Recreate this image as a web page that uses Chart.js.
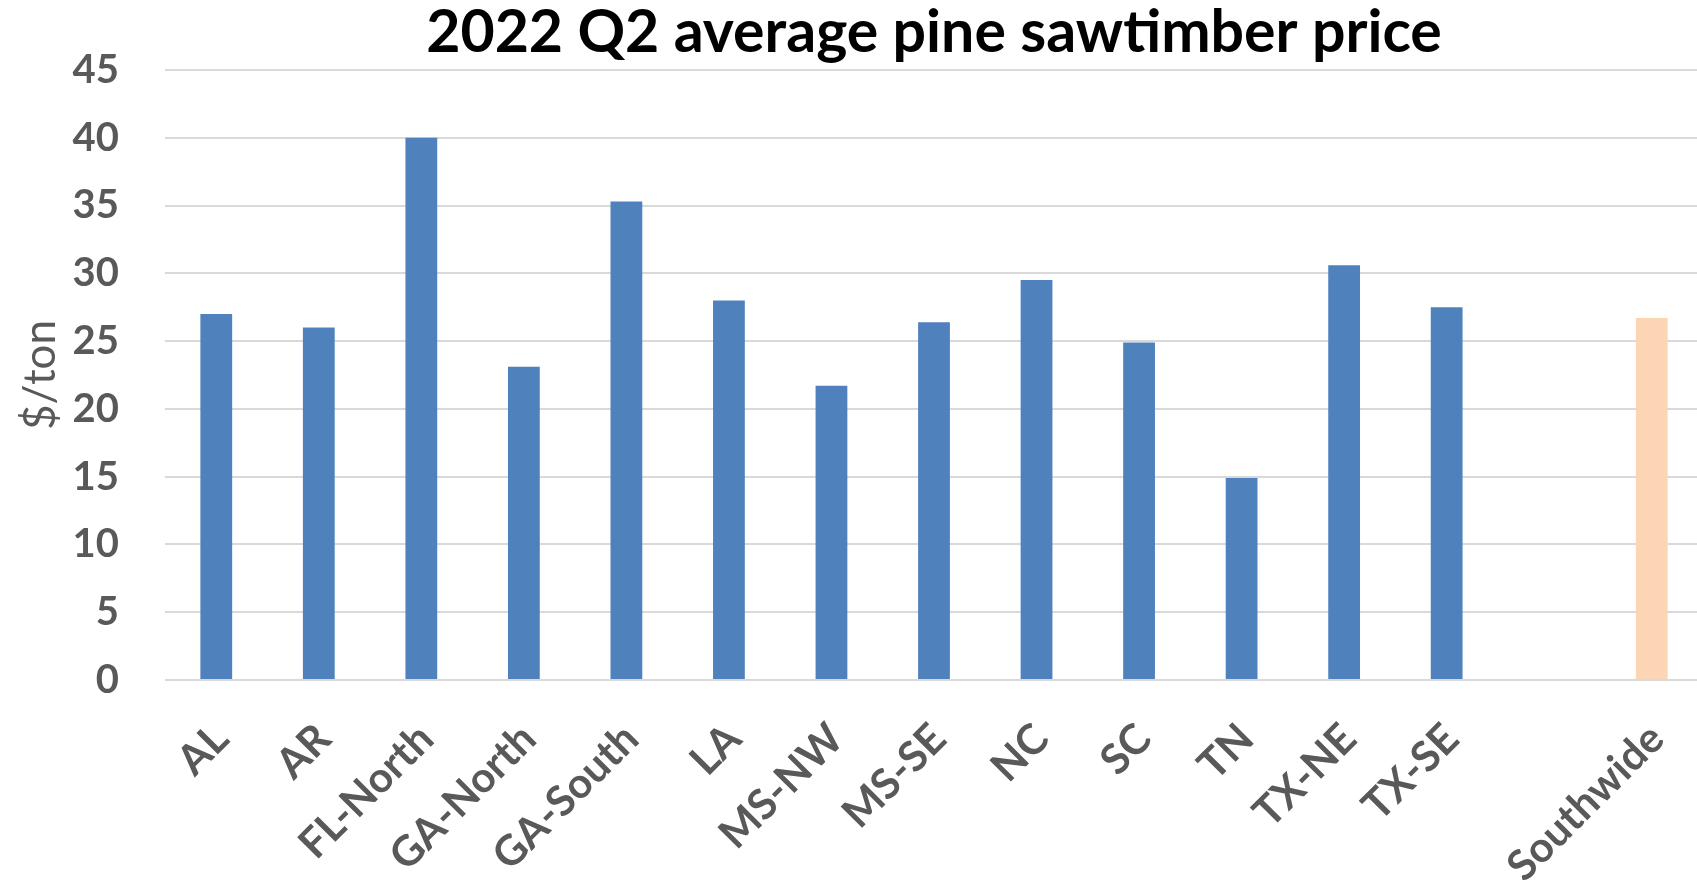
<!DOCTYPE html>
<html>
<head>
<meta charset="utf-8">
<title>2022 Q2 average pine sawtimber price</title>
<script src="https://cdn.jsdelivr.net/npm/chart.js@4.4.1/dist/chart.umd.min.js"></script>
<style>
  html, body { margin: 0; padding: 0; background: #ffffff; overflow: hidden; }
  #wrap { position: relative; width: 1703px; height: 893px; }
</style>
</head>
<body>
<div id="wrap"><canvas id="priceChart" width="1703" height="893"></canvas></div>
<script>
// Average stumpage price of pine sawtimber by region, 2022 Q2 ($/ton)
const chartTitle = '2022 Q2 average pine sawtimber price';
const yAxisTitle = '$/ton';
const regions = ['AL', 'AR', 'FL-North', 'GA-North', 'GA-South', 'LA', 'MS-NW',
                 'MS-SE', 'NC', 'SC', 'TN', 'TX-NE', 'TX-SE', '', 'Southwide'];
const prices  = [27.0, 26.0, 40.0, 23.1, 35.3, 28.0, 21.7,
                 26.4, 29.5, 24.9, 14.9, 30.6, 27.5, null, 26.7];
const yTickValues = [0, 5, 10, 15, 20, 25, 30, 35, 40, 45];

const regionColor = '#4F81BD';
const southwideColor = '#FCD5B5';
const barColors = regions.map(r => r === 'Southwide' ? southwideColor : regionColor);

// Title centred over the plotting area rather than the whole canvas
const plotTitle = {
  id: 'plotTitle',
  afterDraw(chart, args, opts) {
    const { ctx, chartArea } = chart;
    ctx.save();
    ctx.font = opts.font;
    ctx.fillStyle = opts.color;
    ctx.textAlign = 'center';
    ctx.textBaseline = 'middle';
    ctx.fillText(opts.text, (chartArea.left + chartArea.right) / 2, opts.y);
    ctx.restore();
  }
};

function build() {
  new Chart(document.getElementById('priceChart'), {
    type: 'bar',
    data: {
      labels: regions,
      datasets: [{
        data: prices,
        backgroundColor: barColors,
        borderWidth: 0,
        barPercentage: 0.31,
        categoryPercentage: 1.0
      }]
    },
    plugins: [plotTitle],
    options: {
      responsive: false,
      animation: false,
      layout: { padding: { top: 70, left: 0, right: 0, bottom: 0 } },
      plugins: {
        legend: { display: false },
        tooltip: { enabled: false },
        title: { display: false },
        plotTitle: {
          text: chartTitle,
          font: 'bold 59px Lato',
          color: '#000000',
          y: 33
        }
      },
      scales: {
        x: {
          grid: { display: false, drawTicks: false },
          border: { display: false },
          ticks: {
            color: '#595959',
            font: { family: 'Lato', size: 42, weight: 'bold' },
            minRotation: 45,
            maxRotation: 45,
            autoSkip: false,
            padding: 34,
            labelOffset: 5
          },
          afterFit(scale) {
            scale.height = 213;
            // rotated labels end at their bars; no extra side room needed
            scale.paddingLeft = 0;
            scale.paddingRight = 0;
          }
        },
        y: {
          min: 0,
          max: 45,
          grid: { color: '#D9D9D9', lineWidth: 2, drawTicks: false },
          border: { display: false },
          ticks: {
            color: '#595959',
            font: { family: 'Lato', size: 40, weight: 'bold' },
            padding: 46
          },
          afterBuildTicks(scale) { scale.ticks = yTickValues.map(v => ({ value: v })); },
          title: {
            display: true,
            text: yAxisTitle,
            color: '#595959',
            font: { family: 'Lato', size: 44, weight: 'normal' },
            padding: { top: 14, bottom: 0 }
          },
          afterFit(scale) { scale.width = 165; }
        }
      }
    }
  });
}

Promise.all([
  document.fonts.load('bold 59px Lato'),
  document.fonts.load('bold 42px Lato'),
  document.fonts.load('bold 40px Lato'),
  document.fonts.load('44px Lato')
]).then(build, build);
</script>
</body>
</html>
